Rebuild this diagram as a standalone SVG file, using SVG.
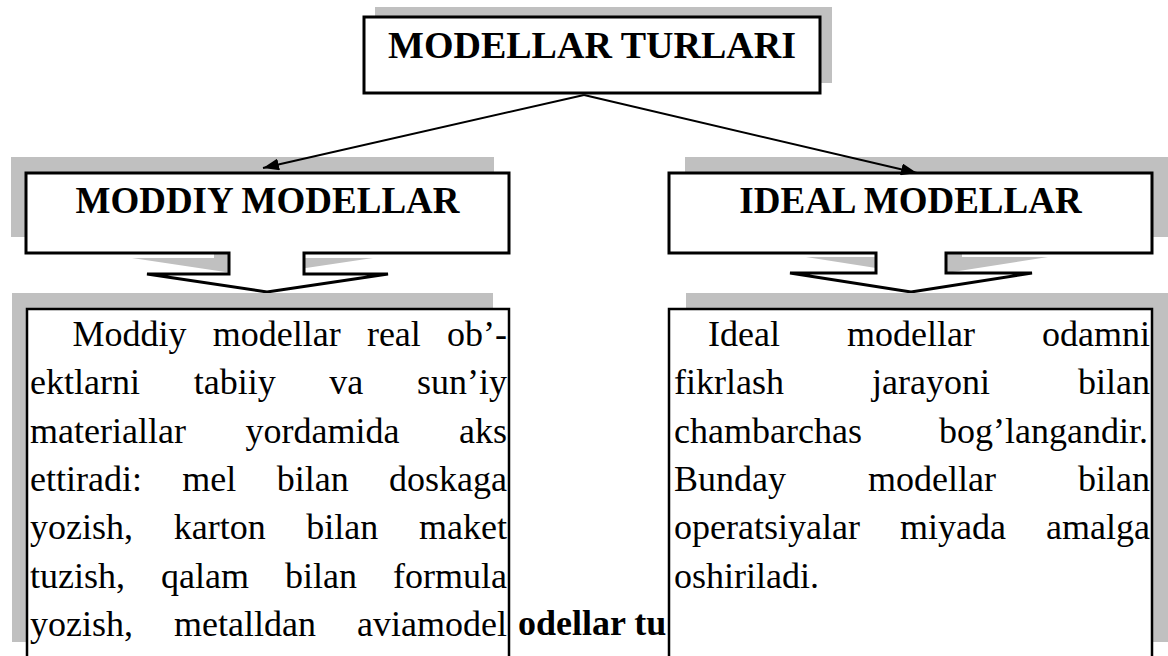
<svg xmlns="http://www.w3.org/2000/svg" width="1168" height="656" viewBox="0 0 1168 656">
<defs>
<style>
.shadow{fill:#c0c0c0;stroke:none}
.box{fill:#fff;stroke:#000;stroke-width:3}
.tbox{fill:#fff;stroke:#000;stroke-width:2.5}
.head{font-family:"Liberation Serif","Times New Roman",serif;font-weight:bold;font-size:37px;fill:#000;text-anchor:middle}
.body{font-family:"Liberation Serif","Times New Roman",serif;font-size:36px;fill:#000}
.cap{font-family:"Liberation Serif","Times New Roman",serif;font-weight:bold;font-size:36px;fill:#000}
.conn{stroke:#000;stroke-width:2;fill:none}
</style>
<marker id="arr" markerUnits="userSpaceOnUse" markerWidth="18" markerHeight="12" refX="16" refY="6" orient="auto">
<path d="M0,0 L16,6 L0,12 Z" fill="#000"/>
</marker>
</defs>
<rect width="1168" height="656" fill="#fff"/>

<g id="node-top">
<rect class="shadow" x="375" y="7" width="457" height="76"/>
<rect class="box" x="364" y="17" width="456" height="76"/>
<text class="head" x="592" y="58" style="font-size:38px">MODELLAR TURLARI</text>
</g>

<g id="node-moddiy">
<path class="shadow" transform="translate(-15,-16)" d="M26,173 H509 V253 H304 V274 H388 L267,292 L147,274 H229 V253 H26 Z"/>
<path class="box" d="M26,173 H509 V253 H304 V274 H388 L267,292 L147,274 H229 V253 H26 Z"/>
<text class="head" x="267.5" y="213">MODDIY MODELLAR</text>
</g>

<g id="node-ideal">
<path class="shadow" transform="translate(16,-16)" d="M669,173 H1152 V253 H946 V273 H1032 L911,292 L790,273 H876 V253 H669 Z"/>
<path class="box" d="M669,173 H1152 V253 H946 V273 H1032 L911,292 L790,273 H876 V253 H669 Z"/>
<text class="head" x="910.5" y="213">IDEAL MODELLAR</text>
</g>

<g id="node-moddiy-text">
<rect class="shadow" x="12" y="293" width="481" height="349"/>
<rect class="tbox" x="27" y="309" width="482" height="370"/>
<text class="body" y="346"><tspan x="72.5">Moddiy</tspan><tspan x="212.7">modellar</tspan><tspan x="366.9">real</tspan><tspan x="447">ob’-</tspan></text>
<text class="body" y="394.3"><tspan x="30">ektlarni</tspan><tspan x="193.7">tabiiy</tspan><tspan x="329.3">va</tspan><tspan x="417">sun’iy</tspan></text>
<text class="body" y="442.6"><tspan x="30">materiallar</tspan><tspan x="245.5">yordamida</tspan><tspan x="459">aks</tspan></text>
<text class="body" y="490.9"><tspan x="30">ettiradi:</tspan><tspan x="182.3">mel</tspan><tspan x="276.7">bilan</tspan><tspan x="389">doskaga</tspan></text>
<text class="body" y="539.2"><tspan x="30">yozish,</tspan><tspan x="173.7">karton</tspan><tspan x="306.3">bilan</tspan><tspan x="419">maket</tspan></text>
<text class="body" y="587.5"><tspan x="30">tuzish,</tspan><tspan x="161">qalam</tspan><tspan x="285">bilan</tspan><tspan x="393">formula</tspan></text>
<text class="body" y="635.8"><tspan x="30">yozish,</tspan><tspan x="174">metalldan</tspan><tspan x="357">aviamodel</tspan></text>
</g>

<g id="node-ideal-text">
<rect class="shadow" x="686" y="293" width="482" height="349"/>
<rect class="tbox" x="669" y="309" width="483" height="370"/>
<text class="body" y="346"><tspan x="708">Ideal</tspan><tspan x="847">modellar</tspan><tspan x="1042">odamni</tspan></text>
<text class="body" y="394.3"><tspan x="674">fikrlash</tspan><tspan x="872">jarayoni</tspan><tspan x="1078">bilan</tspan></text>
<text class="body" y="442.6"><tspan x="674">chambarchas</tspan><tspan x="939">bog’langandir.</tspan></text>
<text class="body" y="490.9"><tspan x="674">Bunday</tspan><tspan x="868">modellar</tspan><tspan x="1078">bilan</tspan></text>
<text class="body" y="539.2"><tspan x="674">operatsiyalar</tspan><tspan x="900">miyada</tspan><tspan x="1046">amalga</tspan></text>
<text class="body" y="587.5"><tspan x="674">oshiriladi.</tspan></text>
</g>

<text class="cap" x="518" y="635">odellar tu</text>

<g id="connectors">
<line class="conn" x1="584" y1="95" x2="263" y2="168" marker-end="url(#arr)"/>
<line class="conn" x1="584" y1="95" x2="917" y2="173" marker-end="url(#arr)"/>
</g>
</svg>
